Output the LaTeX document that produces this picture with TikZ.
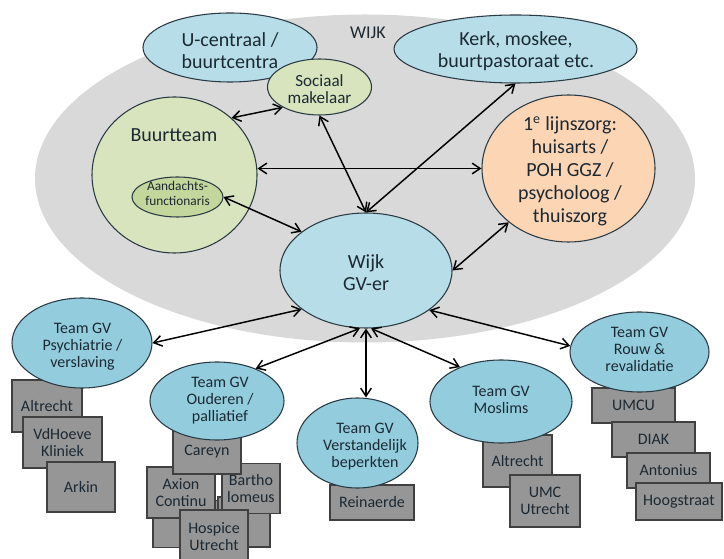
\documentclass[tikz,border=0pt]{standalone}
\usepackage{fontspec}
\setmainfont{Carlito}
\usetikzlibrary{shapes.geometric,arrows.meta}
\definecolor{bgc}{HTML}{D9D9D9}
\definecolor{lblue}{HTML}{B7DEE8}
\definecolor{tblue}{HTML}{93CDDD}
\definecolor{lgreen}{HTML}{D7E4BD}
\definecolor{dgreen}{HTML}{C3D69B}
\definecolor{peach}{HTML}{FCD5B5}
\definecolor{boxg}{HTML}{969696}
\definecolor{txt}{HTML}{1C2933}
\definecolor{edge}{HTML}{2A3A44}
\begin{document}
\begin{tikzpicture}[x=0.75pt,y=-0.75pt,
  ell/.style={ellipse, draw=edge, line width=0.8pt, inner sep=0pt},
  lbl/.style={align=center, text=txt, inner sep=0pt},
  big/.style={lbl, font=\fontsize{15}{16.5}\selectfont},
  team/.style={lbl, font=\fontsize{12}{12.8}\selectfont},
  orgbox/.style={rectangle, draw=black!75, fill=boxg, line width=0.8pt, inner sep=0pt,
    align=center, text=txt, font=\fontsize{12}{13.2}\selectfont},
  link/.style={{Straight Barb[length=6pt,width=8pt]}-{Straight Barb[length=6pt,width=8pt]},
    line width=1.1pt, black}
]
\useasboundingbox (0,0) rectangle (724,559);
\clip (0,0) rectangle (724,559);
\fill[white] (0,0) rectangle (724,559);

% neighbourhood
\node[ellipse, fill=bgc, inner sep=0pt, minimum width=495pt, minimum height=246pt] (bg) at (365,178.5) {};
\node[lbl, font=\fontsize{13.5}{14}\selectfont] (wijklbl) at (368,33) {WIJK};

\node[ell, fill=lblue, minimum width=130.5pt, minimum height=51.75pt] (ucen) at (230,47.5) {};
\node[big] (ucent) at (230,50.5) {U-centraal /\\buurtcentra};

\node[ell, fill=lblue, minimum width=182.25pt, minimum height=51pt] (kerk) at (515.5,49) {};
\node[big] (kerkt) at (516,51.5) {Kerk, moskee,\\buurtpastoraat etc.};

\node[ell, fill=lgreen, minimum width=78pt, minimum height=42pt] (soc) at (319.5,87) {};
\node[lbl, font=\fontsize{12.8}{13.2}\selectfont] (soct) at (319.5,89) {Sociaal\\makelaar};

\node[ell, fill=lgreen, minimum width=123.75pt, minimum height=117pt] (buurt) at (174.5,175) {};
\node[big] (buurtt) at (174,135) {Buurtteam};

\node[ell, fill=dgreen, minimum width=68.25pt, minimum height=30pt] (aand) at (177.5,197) {};
\node[lbl, font=\fontsize{10}{11.2}\selectfont] (aandt) at (177.5,193.5) {Aandachts-\\functionaris};

\node[ell, fill=peach, minimum width=129.75pt, minimum height=110.25pt] (lijn) at (568.5,168.5) {};
\node[lbl, font=\fontsize{15}{17.2}\selectfont] (lijnt) at (570,171.5) {1\textsuperscript{e} lijnszorg:\\huisarts /\\POH GGZ /\\psycholoog /\\thuiszorg};

\node[ell, fill=lblue, minimum width=129pt, minimum height=86.25pt] (wijk) at (366,270.5) {};
\node[lbl, font=\fontsize{15}{16}\selectfont] (wijkt) at (366,272.5) {Wijk\\GV-er};

% Psychiatrie
\node[orgbox, minimum width=52.5pt, minimum height=39pt] (pA) at (47,406) {Altrecht};
\node[orgbox, minimum width=59.25pt, minimum height=38.25pt] (pV) at (62.5,442.5) {VdHoeve\\Kliniek};
\node[orgbox, minimum width=51pt, minimum height=37.5pt] (pK) at (81,487) {Arkin};
\node[ell, fill=tblue, minimum width=105pt, minimum height=67.5pt] (psych) at (82,343) {};
\node[team] (psycht) at (82.5,346.5) {Team GV\\Psychiatrie /\\verslaving};

% Ouderen
\node[orgbox, minimum width=51.75pt, minimum height=35pt] (oBL) at (187.5,524) {};
\node[orgbox, minimum width=39pt, minimum height=37.5pt] (oBR) at (244,522) {};
\node[orgbox, minimum width=51pt, minimum height=38.25pt] (oAx) at (181,492.5) {Axion\\Continu};
\node[orgbox, minimum width=43.5pt, minimum height=37.5pt] (oBa) at (251,488.5) {Bartho\\lomeus};
\node[orgbox, minimum width=51pt, minimum height=33pt] (oC) at (207,452) {Careyn};
\node[orgbox, minimum width=51pt, minimum height=39.75pt] (oH) at (214,536.5) {Hospice\\Utrecht};
\node[ell, fill=tblue, minimum width=100.5pt, minimum height=58.5pt] (oud) at (217,401) {};
\node[team] (oudt) at (220,400.5) {Team GV\\Ouderen /\\palliatief};

% Verstandelijk beperkten
\node[orgbox, minimum width=63pt, minimum height=26.25pt] (vR) at (372,502.5) {Reinaerde};
\node[ell, fill=tblue, minimum width=90.75pt, minimum height=67.5pt] (verst) at (357.5,443) {};
\node[team] (verstt) at (365,446.5) {Team GV\\Verstandelijk\\beperkten};

% Moslims
\node[orgbox, minimum width=51.75pt, minimum height=39pt] (mA) at (517.5,461) {Altrecht};
\node[orgbox, minimum width=52.5pt, minimum height=39pt] (mU) at (545,501) {UMC\\Utrecht};
\node[ell, fill=tblue, minimum width=106.5pt, minimum height=62.25pt] (mosl) at (501,401.5) {};
\node[team] (moslt) at (501,400) {Team GV\\Moslims};

% Rouw
\node[orgbox, minimum width=62.25pt, minimum height=26.25pt] (rU) at (633.5,405.5) {UMCU};
\node[orgbox, minimum width=62.25pt, minimum height=26.25pt] (rD) at (653.5,439.5) {DIAK};
\node[orgbox, minimum width=62.25pt, minimum height=26.25pt] (rA) at (668.5,470.5) {Antonius};
\node[orgbox, minimum width=64.5pt, minimum height=27.75pt] (rH) at (679,501.5) {Hoogstraat};
\node[ell, fill=tblue, minimum width=104.25pt, minimum height=60pt] (rouw) at (639.5,352) {};
\node[team] (rouwt) at (639.5,349.5) {Team GV\\Rouw \&\\revalidatie};

% connectors
\draw[link] (buurt.45) -- (soc.209);
\draw[link] (soc.south) -- (wijk.north);
\draw[link] (buurt.east |- lijn.west) -- (lijn.west);
\draw[link] (aand.east) -- (wijk.149);
\draw[link] (kerk.south) -- (wijk.north);
\draw[link] (wijk.east) -- (lijn.222);
\draw[link] (psych.east) -- (wijk.211);
\draw[link] (oud.40) -- (wijk.264);
\draw[link] (wijk.south) -- (wijk.south |- verst.north);
\draw[link] (wijk.275) -- (mosl.140);
\draw[link] (wijk.328) -- (rouw.175);
\end{tikzpicture}
\end{document}
